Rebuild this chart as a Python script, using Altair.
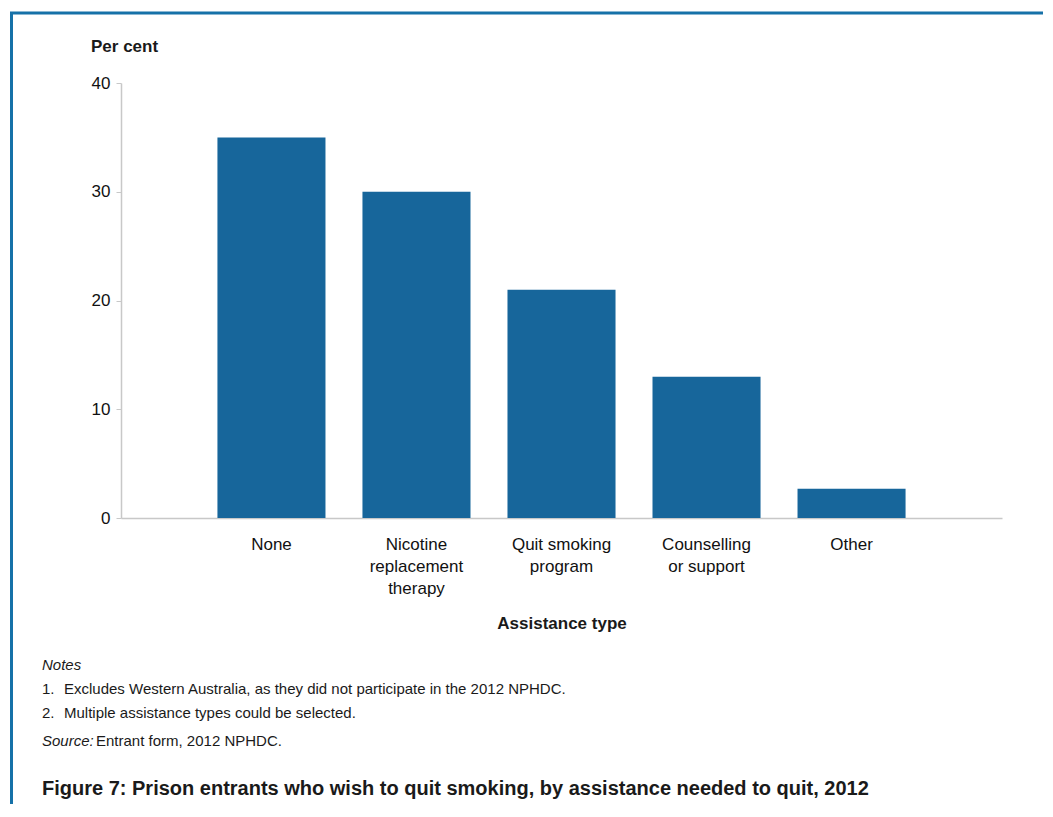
import altair as alt
import pandas as pd

categories = ["None", "Nicotine|replacement|therapy", "Quit smoking|program", "Counselling|or support", "Other"]
values = [35.0, 30.0, 21.0, 13.0, 2.7]

note_nums = ["1.", "2."]
note_lines = [
    "Excludes Western Australia, as they did not participate in the 2012 NPHDC.",
    "Multiple assistance types could be selected.",
]
notes_title = "Notes"
source_label = "Source:"
source_text = "Entrant form, 2012 NPHDC."
y_title = "Per cent"
x_title = "Assistance type"
fig_title = "Figure 7: Prison entrants who wish to quit smoking, by assistance needed to quit, 2012"

BAR = "#17669B"
FRAME = "#1671A8"
SANS = "Liberation Sans, Arial, sans-serif"

W, H = 881, 435
PL, PT, PR, PB = 113, 75, 41, 286

df = pd.DataFrame({"cat": categories, "val": values})

bars = alt.Chart(df).mark_bar(color=BAR).encode(
    x=alt.X("cat:N", sort=categories, title=None,
            scale=alt.Scale(paddingInner=0.255, paddingOuter=0.665),
            axis=alt.Axis(labelAngle=0, labelExpr="split(datum.label, '|')",
                          labelLineHeight=22, labelPadding=18, ticks=False,
                          domainColor="#c8c8c8", domainWidth=1.5,
                          labelFont=SANS, labelFontSize=17, labelColor="#111")),
    y=alt.Y("val:Q", title=None,
            scale=alt.Scale(domain=[0, 40]),
            axis=alt.Axis(values=[0, 10, 20, 30, 40], grid=False, tickSize=5,
                          tickColor="#c8c8c8", domainColor="#c8c8c8", domainWidth=1.5,
                          labelPadding=6, labelFont=SANS, labelFontSize=17, labelColor="#111")),
)

def txt(s, x, y, size, weight="normal", style="normal", align="left"):
    return alt.Chart(pd.DataFrame({"t": [s]})).mark_text(
        align=align, baseline="middle", fontSize=size, font=SANS,
        fontWeight=weight, fontStyle=style, color="#1a1a1a"
    ).encode(text="t:N", x=alt.value(x), y=alt.value(y))

ox, oy = 121, 83  # page coords of plot origin
layers = [bars]
layers.append(txt(y_title, 91 - ox, 47 - oy, 17, weight="bold"))
layers.append(txt(x_title, 562 - ox, 624 - oy, 17, weight="bold", align="center"))
layers.append(txt(notes_title, 42 - ox, 665 - oy, 15, style="italic"))
layers.append(txt(note_nums[0], 42 - ox, 689 - oy, 15))
layers.append(txt(note_lines[0], 64 - ox, 689 - oy, 15))
layers.append(txt(note_nums[1], 42 - ox, 713 - oy, 15))
layers.append(txt(note_lines[1], 64 - ox, 713 - oy, 15))
layers.append(txt(source_label, 42 - ox, 741 - oy, 15, style="italic"))
layers.append(txt(source_text, 96 - ox, 741 - oy, 15))
layers.append(txt(fig_title, 42 - ox, 789 - oy, 20, weight="bold"))

frame_df = pd.DataFrame({"k": [0]})
top_line = alt.Chart(frame_df).mark_rule(color=FRAME, strokeWidth=3).encode(
    x=alt.value(10 - ox), x2=alt.value(PR + W + 10), y=alt.value(13 - oy))
left_line = alt.Chart(frame_df).mark_rule(color=FRAME, strokeWidth=3).encode(
    x=alt.value(11.5 - ox), y=alt.value(12 - oy), y2=alt.value(H + PB + 10))
layers += [top_line, left_line]

chart = alt.layer(*layers).properties(
    width=W, height=H,
    background="white",
    autosize=alt.AutoSizeParams(type="none"),
    padding={"left": PL, "top": PT, "right": PR, "bottom": PB},
).configure_view(stroke=None)

chart.save("out.html", embed_options={"renderer": "svg", "actions": False})
